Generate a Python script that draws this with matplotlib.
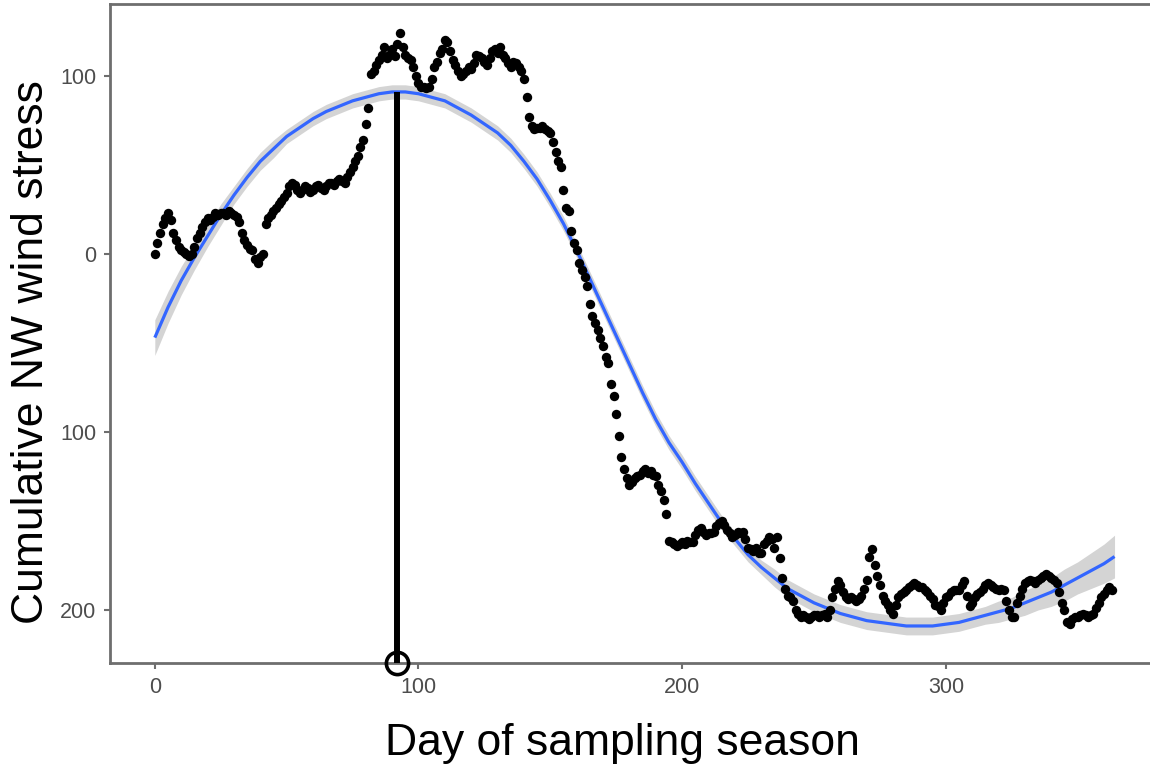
"""Cumulative NW wind stress over the sampling season with smoothed fit."""
import matplotlib.pyplot as plt
import numpy as np

# daily cumulative NW wind stress, days 0..363
stress = [
    0, 6, 12, 17, 20, 23, 19, 12, 8, 4,
    2, 1, 0, -1, 0, 4, 9, 12, 15, 18,
    20, 19, 21, 23, 22, 23, 23, 22, 24, 23,
    22, 21, 18, 12, 8, 5, 3, 2, -3, -5,
    -2, 0, 17, 20, 22, 24, 26, 28, 30, 32,
    34, 38, 40, 39, 36, 34, 36, 38, 37, 35,
    36, 38, 39, 37, 36, 38, 40, 40, 39, 41,
    42, 41, 40, 43, 46, 49, 52, 55, 60, 64,
    73, 82, 101, 103, 106, 109, 112, 116, 110, 112,
    115, 111, 118, 124, 116, 112, 110, 109, 105, 100,
    96, 94, 94, 93, 94, 98, 105, 108, 113, 115,
    120, 119, 114, 109, 106, 103, 100, 101, 103, 105,
    104, 107, 112, 111, 110, 108, 106, 110, 114, 115,
    113, 116, 112, 110, 107, 105, 108, 107, 105, 103,
    98, 88, 77, 72, 70, 71, 71, 72, 70, 69,
    68, 63, 57, 52, 49, 36, 26, 24, 13, 6,
    2, -5, -9, -13, -18, -28, -35, -39, -43, -47,
    -52, -58, -61, -73, -80, -90, -102, -114, -121, -126,
    -130, -128, -126, -125, -124, -122, -121, -123, -122, -124,
    -125, -130, -133, -138, -146, -161, -162, -163, -164, -163,
    -162, -163, -161, -162, -162, -158, -155, -154, -156, -158,
    -157, -157, -156, -153, -151, -150, -152, -155, -157, -159,
    -158, -156, -157, -156, -160, -165, -166, -167, -165, -168,
    -168, -163, -161, -159, -160, -165, -159, -171, -182, -188,
    -192, -193, -195, -200, -202, -204, -203, -204, -205, -204,
    -203, -203, -204, -203, -202, -204, -200, -193, -188, -184,
    -186, -190, -193, -194, -193, -194, -195, -194, -192, -188,
    -183, -170, -166, -175, -181, -186, -192, -195, -197, -200,
    -202, -197, -193, -191, -190, -189, -187, -186, -185, -186,
    -187, -187, -189, -190, -192, -194, -197, -198, -200, -196,
    -193, -192, -190, -189, -189, -189, -186, -184, -192, -198,
    -196, -193, -191, -190, -188, -186, -185, -186, -187, -188,
    -189, -188, -189, -195, -200, -204, -204, -196, -192, -188,
    -185, -184, -183, -184, -185, -183, -182, -181, -180, -181,
    -182, -183, -185, -190, -196, -200, -207, -208, -205, -204,
    -204, -203, -202, -203, -204, -203, -202, -199, -196, -193,
    -191, -189, -187, -189,
]
days = np.arange(len(stress))

# smoothed fit (every 5 days) and its confidence half-width
fit_days = [0, 5, 10, 15, 20, 25, 30, 35, 40, 45, 50, 55, 60, 65, 70, 75,
            80, 85, 90, 95, 100, 105, 110, 115, 120, 125, 130, 135, 140, 145,
            150, 155, 160, 165, 170, 175, 180, 185, 190, 195, 200, 205, 210,
            215, 220, 225, 230, 235, 240, 245, 250, 255, 260, 265, 270, 275,
            280, 285, 290, 295, 300, 305, 310, 315, 320, 325, 330, 335, 340,
            345, 350, 355, 360, 364]
fit_vals = [-47, -30, -15, -2, 10, 22, 33, 43, 52, 59, 66, 71, 76, 80, 83, 86,
            88, 90, 91, 91, 90, 88, 86, 82, 78, 73, 68, 61, 52, 42,
            30, 17, 2, -14, -30, -46, -62, -78, -93, -106, -117, -129, -140,
            -151, -160, -169, -176, -182, -188, -192, -196, -199, -202, -204, -206, -207,
            -208, -209, -209, -209, -208, -207, -205, -203, -201, -199, -196, -193, -190,
            -186, -182, -178, -174, -170]
fit_se = [10, 9, 8, 7, 6, 6, 5, 5, 5, 5, 4, 4, 4, 4, 4, 4,
          4, 4, 4, 4, 4, 4, 4, 4, 4, 4, 4, 4, 4, 4,
          4, 4, 4, 4, 4, 4, 4, 4, 4, 4, 4, 4, 4,
          4, 4, 4, 4, 5, 5, 5, 5, 5, 5, 5, 5, 5,
          5, 5, 5, 5, 5, 5, 5, 5, 6, 6, 7, 7, 8,
          9, 9, 10, 11, 12]

peak_day = 92
peak_val = 91

fig = plt.figure(figsize=(11.5, 7.67), dpi=100)
ax = fig.add_axes([110 / 1150, 1 - 663 / 767, 1052 / 1150, 659 / 767])

fd = np.array(fit_days)
fv = np.array(fit_vals)
fs = np.array(fit_se)
ax.fill_between(fd, fv - fs, fv + fs, color="#d4d4d4", linewidth=0, zorder=2)
ax.plot(fd, fv, color="#3366ff", lw=2.3, zorder=3, solid_capstyle="butt",
        solid_joinstyle="round")
ax.scatter(days, stress, s=46, color="black", linewidths=0, zorder=4)

ymin, ymax = -229.8, 140.4
ax.plot([peak_day, peak_day], [ymin, peak_val], color="black", lw=4.3, zorder=5,
        solid_capstyle="butt", clip_on=False)
ax.plot([peak_day], [ymin], marker="o", ms=16, mfc="none", mec="black", mew=2.6,
        zorder=6, clip_on=False)

ax.set_xlim(-17, 382)
ax.set_ylim(ymin, ymax)
ax.set_xticks([0, 100, 200, 300])
ax.set_yticks([100, 0, -100, -200])
ax.set_yticklabels(["100", "0", "100", "200"])

for side in ("left", "bottom", "top"):
    ax.spines[side].set_color("#6e6e6e")
    ax.spines[side].set_linewidth(2.0)
ax.spines["right"].set_visible(False)
ax.tick_params(colors="#6e6e6e", length=4, width=1.5, labelsize=15.5, pad=6,
               labelcolor="#4d4d4d")
for lab in ax.get_xticklabels() + ax.get_yticklabels():
    lab.set_family("Liberation Sans")

ax.set_xlabel("Day of sampling season", fontsize=32, family="Liberation Sans",
              labelpad=18)
ax.set_ylabel("Cumulative NW wind stress", fontsize=32, family="Liberation Sans",
              labelpad=6)
# the panel runs past the right edge, so centre the titles on the visible part
ax.xaxis.label.set_x(0.487)
ax.yaxis.label.set_y(0.472)

fig.savefig("out.png", dpi=100, facecolor="white")
